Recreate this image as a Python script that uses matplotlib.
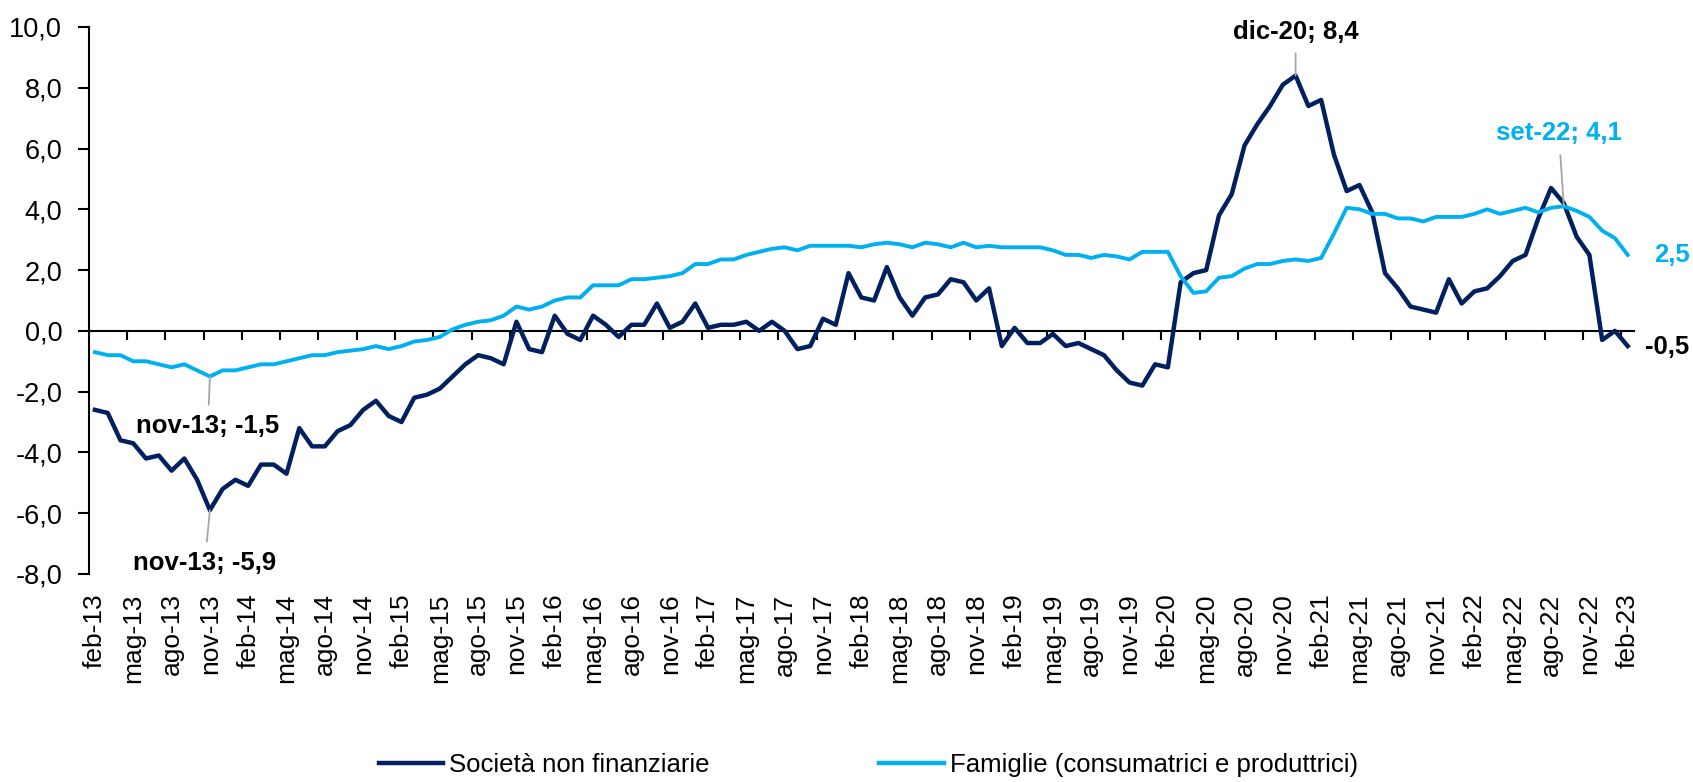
import numpy as np
import matplotlib
matplotlib.use("Agg")
import matplotlib.pyplot as plt

plt.rcParams['font.family'] = ['Liberation Sans', 'DejaVu Sans']


# ----------------------------
# Data (monthly, feb-13 .. feb-23)
# ----------------------------

MESI = ['gen', 'feb', 'mar', 'apr', 'mag', 'giu', 'lug', 'ago', 'set', 'ott', 'nov', 'dic']
N_MONTHS = 121

# month labels "feb-13" ... "feb-23"
months = [f"{MESI[(1 + k) % 12]}-{13 + (1 + k) // 12:02d}" for k in range(N_MONTHS)]

societa_nf = [
    -2.6, -2.7, -3.6, -3.7, -4.2, -4.1, -4.6, -4.2, -4.9, -5.9,
    -5.2, -4.9, -5.1, -4.4, -4.4, -4.7, -3.2, -3.8, -3.8, -3.3,
    -3.1, -2.6, -2.3, -2.8, -3.0, -2.2, -2.1, -1.9, -1.5, -1.1,
    -0.8, -0.9, -1.1, 0.3, -0.6, -0.7, 0.5, -0.1, -0.3, 0.5,
    0.2, -0.2, 0.2, 0.2, 0.9, 0.1, 0.3, 0.9, 0.1, 0.2,
    0.2, 0.3, 0.0, 0.3, 0.0, -0.6, -0.5, 0.4, 0.2, 1.9,
    1.1, 1.0, 2.1, 1.1, 0.5, 1.1, 1.2, 1.7, 1.6, 1.0,
    1.4, -0.5, 0.1, -0.4, -0.4, -0.1, -0.5, -0.4, -0.6, -0.8,
    -1.3, -1.7, -1.8, -1.1, -1.2, 1.6, 1.9, 2.0, 3.8, 4.5,
    6.1, 6.8, 7.4, 8.1, 8.4, 7.4, 7.6, 5.8, 4.6, 4.8,
    3.9, 1.9, 1.4, 0.8, 0.7, 0.6, 1.7, 0.9, 1.3, 1.4,
    1.8, 2.3, 2.5, 3.7, 4.7, 4.2, 3.1, 2.5, -0.3, 0.0,
    -0.5,
]

famiglie = [
    -0.7, -0.8, -0.8, -1.0, -1.0, -1.1, -1.2, -1.1, -1.3, -1.5,
    -1.3, -1.3, -1.2, -1.1, -1.1, -1.0, -0.9, -0.8, -0.8, -0.7,
    -0.65, -0.6, -0.5, -0.6, -0.5, -0.35, -0.3, -0.2, 0.05, 0.2,
    0.3, 0.35, 0.5, 0.8, 0.7, 0.8, 1.0, 1.1, 1.1, 1.5,
    1.5, 1.5, 1.7, 1.7, 1.75, 1.8, 1.9, 2.2, 2.2, 2.35,
    2.35, 2.5, 2.6, 2.7, 2.75, 2.65, 2.8, 2.8, 2.8, 2.8,
    2.75, 2.85, 2.9, 2.85, 2.75, 2.9, 2.85, 2.75, 2.9, 2.75,
    2.8, 2.75, 2.75, 2.75, 2.75, 2.65, 2.5, 2.5, 2.4, 2.5,
    2.45, 2.35, 2.6, 2.6, 2.6, 1.8, 1.25, 1.3, 1.75, 1.8,
    2.05, 2.2, 2.2, 2.3, 2.35, 2.3, 2.4, 3.2, 4.05, 4.0,
    3.85, 3.85, 3.7, 3.7, 3.6, 3.75, 3.75, 3.75, 3.85, 4.0,
    3.85, 3.95, 4.05, 3.9, 4.05, 4.1, 3.95, 3.75, 3.3, 3.05,
    2.5,
]

series_names = ["Società non finanziarie", "Famiglie (consumatrici e produttrici)"]

y_ticks = [-8, -6, -4, -2, 0, 2, 4, 6, 8, 10]
y_tick_labels = ['-8,0', '-6,0', '-4,0', '-2,0', '0,0', '2,0', '4,0', '6,0', '8,0', '10,0']

DARK = '#002060'
LIGHT = '#00B0F0'
LEADER = '#A6A6A6'


# ----------------------------
# Figure
# ----------------------------

fig = plt.figure(figsize=(16.93, 7.82), dpi=100)
ax = fig.add_axes([0.0523, 0.266, 0.9129, 0.6995])

x = np.arange(len(months))
l1, = ax.plot(x, societa_nf, color=DARK, lw=3.2, zorder=3, label=series_names[0])
l2, = ax.plot(x, famiglie, color=LIGHT, lw=2.8, zorder=4, label=series_names[1])

ax.set_xlim(-0.5, len(months) - 0.5)
ax.set_ylim(y_ticks[0], y_ticks[-1])

ax.set_yticks(y_ticks, y_tick_labels)
ax.tick_params(axis='y', direction='out', length=8, width=1.5, pad=11, labelsize=19.5)

# category labels every 3 months, at the bottom of the plot
ax.set_xticks(x[::3], months[::3], rotation=90)
ax.tick_params(axis='x', length=0, pad=14, labelsize=19)

for side in ['top', 'right', 'bottom']:
    ax.spines[side].set_visible(False)
ax.spines['left'].set_linewidth(1.5)

# horizontal axis line crossing at 0, tick marks between categories
y0, y1 = ax.get_ylim()
zero_ax = ax.secondary_xaxis((0 - y0) / (y1 - y0))
zero_ax.set_xticks(np.arange(2.5, len(months), 3))
zero_ax.tick_params(direction='out', length=6.5, width=1.5,
                    labelbottom=False, labeltop=False)
zero_ax.spines['bottom'].set_linewidth(1.5)


# ----------------------------
# Data labels
# ----------------------------

def label_point(name, vals, color, dx, dy, leader=True, ha='center'):
    i = months.index(name)
    txt = f"{name}; {vals[i]:.1f}".replace('.', ',')
    arrow = dict(arrowstyle='-', color=LEADER, lw=1.3, shrinkA=5, shrinkB=0) if leader else None
    ax.annotate(txt, xy=(i, vals[i]), xytext=(dx, dy), textcoords='offset pixels',
                ha=ha, va='center', fontsize=18.5, fontweight='bold', color=color,
                arrowprops=arrow, zorder=5)


label_point('nov-13', famiglie, 'black', -2, -50)
label_point('nov-13', societa_nf, 'black', -5, -53)
label_point('dic-20', societa_nf, 'black', 0, 44)
label_point('set-22', famiglie, LIGHT, -5, 73)

# last values
ax.annotate(f"{famiglie[-1]:.1f}".replace('.', ','), xy=(x[-1], famiglie[-1]),
            xytext=(26, 0), textcoords='offset pixels', ha='left', va='center',
            fontsize=18.5, fontweight='bold', color=LIGHT, annotation_clip=False)
ax.annotate(f"{societa_nf[-1]:.1f}".replace('.', ','), xy=(x[-1], societa_nf[-1]),
            xytext=(17, -1), textcoords='offset pixels', ha='left', va='center',
            fontsize=18.5, fontweight='bold', color='black', annotation_clip=False)


# ----------------------------
# Legend
# ----------------------------

fig.legend(handles=[l1, l2], loc='center', bbox_to_anchor=(0.513, 0.022), ncol=2,
           frameon=False, fontsize=18.5, handlelength=2.5, handletextpad=0.25,
           columnspacing=6.6)
for h in fig.legends[0].legend_handles:
    h.set_linewidth(3.2)

fig.savefig("out.png", dpi=100)
